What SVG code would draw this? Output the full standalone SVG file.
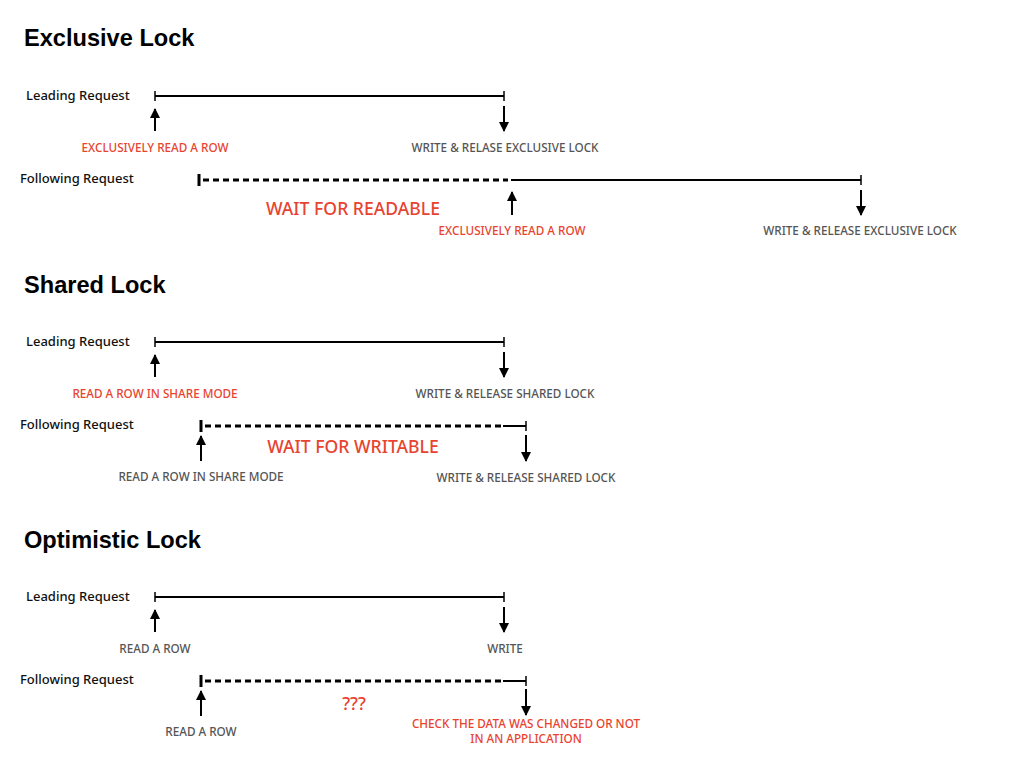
<svg xmlns="http://www.w3.org/2000/svg" width="1024" height="768" viewBox="0 0 1024 768">
<defs>
<style>
.title{font-family:"Liberation Sans",Arial,sans-serif;font-weight:bold;font-size:23.6px;fill:#000}
.req{font-family:"Noto Sans","Open Sans",sans-serif;font-size:13px;font-weight:500;fill:#111}
.lbl{font-family:"Noto Sans","Open Sans",sans-serif;font-size:11.7px;font-weight:500;text-anchor:middle}
.red{fill:#e8432f}
.gray{fill:#555}
.big{font-family:"Noto Sans","Open Sans",sans-serif;font-size:17.6px;font-weight:500;fill:#e8432f;text-anchor:middle}
.solid{stroke:#000;stroke-width:2;fill:none}
.tick{stroke:#000;stroke-width:1.5;fill:none}
.stick{stroke:#000;stroke-width:3;fill:none}
.dash{stroke:#000;stroke-width:3;stroke-dasharray:6 4;fill:none}
.arr{stroke:#000;stroke-width:2;fill:none;marker-end:url(#ah)}
</style>
<marker id="ah" viewBox="0 0 10 10" refX="9" refY="5" markerWidth="5" markerHeight="5" orient="auto" markerUnits="strokeWidth">
<path d="M0,0 L10,5 L0,10 z" fill="#000"/>
</marker>
</defs>
<rect width="1024" height="768" fill="#fff"/>

<!-- Exclusive Lock -->
<g id="exclusive-lock">
<text class="title" x="24" y="46">Exclusive Lock</text>
<g id="ex-leading">
<text class="req" x="26" y="100">Leading Request</text>
<text class="lbl red" x="155" y="152">EXCLUSIVELY READ A ROW</text>
<text class="lbl gray" x="505" y="152">WRITE &amp; RELASE EXCLUSIVE LOCK</text>
</g>
<g id="ex-following">
<text class="req" x="20" y="183">Following Request</text>
<text class="big" x="353" y="215">WAIT FOR READABLE</text>
<text class="lbl red" x="512" y="235">EXCLUSIVELY READ A ROW</text>
<text class="lbl gray" x="860" y="235">WRITE &amp; RELEASE EXCLUSIVE LOCK</text>
</g>
</g>

<!-- Shared Lock -->
<g id="shared-lock">
<text class="title" x="24" y="293">Shared Lock</text>
<g id="sh-leading">
<text class="req" x="26" y="346">Leading Request</text>
<text class="lbl red" x="155" y="398">READ A ROW IN SHARE MODE</text>
<text class="lbl gray" x="505" y="398">WRITE &amp; RELEASE SHARED LOCK</text>
</g>
<g id="sh-following">
<text class="req" x="20" y="429">Following Request</text>
<text class="big" x="353" y="453">WAIT FOR WRITABLE</text>
<text class="lbl gray" x="201" y="481">READ A ROW IN SHARE MODE</text>
<text class="lbl gray" x="526" y="482">WRITE &amp; RELEASE SHARED LOCK</text>
</g>
</g>

<!-- Optimistic Lock -->
<g id="optimistic-lock">
<text class="title" x="24" y="548">Optimistic Lock</text>
<g id="op-leading">
<text class="req" x="26" y="601">Leading Request</text>
<text class="lbl gray" x="155" y="653">READ A ROW</text>
<text class="lbl gray" x="505" y="653">WRITE</text>
</g>
<g id="op-following">
<text class="req" x="20" y="684">Following Request</text>
<text class="big" x="354" y="710">???</text>
<text class="lbl gray" x="201" y="736">READ A ROW</text>
<text class="lbl red" x="526" y="728">CHECK THE DATA WAS CHANGED OR NOT</text>
<text class="lbl red" x="526" y="743">IN AN APPLICATION</text>
</g>
</g>

<!-- Connectors -->
<g id="connectors">
<!-- Exclusive leading -->
<line class="solid" x1="155" y1="96" x2="504" y2="96"/>
<line class="tick" x1="155" y1="91" x2="155" y2="101"/>
<line class="tick" x1="504" y1="91" x2="504" y2="101"/>
<line class="arr" x1="155" y1="131" x2="155" y2="109"/>
<line class="arr" x1="504" y1="106" x2="504" y2="131"/>
<!-- Exclusive following -->
<line class="stick" x1="199" y1="174" x2="199" y2="186"/>
<line class="dash" x1="203" y1="180" x2="508" y2="180"/>
<line class="solid" x1="511" y1="180" x2="861" y2="180"/>
<line class="tick" x1="861" y1="175" x2="861" y2="185"/>
<line class="arr" x1="512" y1="215" x2="512" y2="192"/>
<line class="arr" x1="861" y1="190" x2="861" y2="215"/>

<!-- Shared leading -->
<line class="solid" x1="155" y1="342" x2="504" y2="342"/>
<line class="tick" x1="155" y1="337" x2="155" y2="347"/>
<line class="tick" x1="504" y1="337" x2="504" y2="347"/>
<line class="arr" x1="155" y1="377" x2="155" y2="355"/>
<line class="arr" x1="504" y1="352" x2="504" y2="377"/>
<!-- Shared following -->
<line class="stick" x1="201" y1="420" x2="201" y2="432"/>
<line class="dash" x1="205" y1="426" x2="503" y2="426"/>
<line class="solid" x1="503" y1="426" x2="526" y2="426"/>
<line class="tick" x1="526" y1="421" x2="526" y2="431"/>
<line class="arr" x1="201" y1="461" x2="201" y2="436"/>
<line class="arr" x1="526" y1="435" x2="526" y2="461"/>

<!-- Optimistic leading -->
<line class="solid" x1="155" y1="597" x2="504" y2="597"/>
<line class="tick" x1="155" y1="592" x2="155" y2="602"/>
<line class="tick" x1="504" y1="592" x2="504" y2="602"/>
<line class="arr" x1="155" y1="632" x2="155" y2="610"/>
<line class="arr" x1="504" y1="607" x2="504" y2="632"/>
<!-- Optimistic following -->
<line class="stick" x1="201" y1="675" x2="201" y2="687"/>
<line class="dash" x1="205" y1="681" x2="503" y2="681"/>
<line class="solid" x1="503" y1="681" x2="526" y2="681"/>
<line class="tick" x1="526" y1="676" x2="526" y2="686"/>
<line class="arr" x1="201" y1="716" x2="201" y2="691"/>
<line class="arr" x1="526" y1="689" x2="526" y2="715"/>
</g>
</svg>
